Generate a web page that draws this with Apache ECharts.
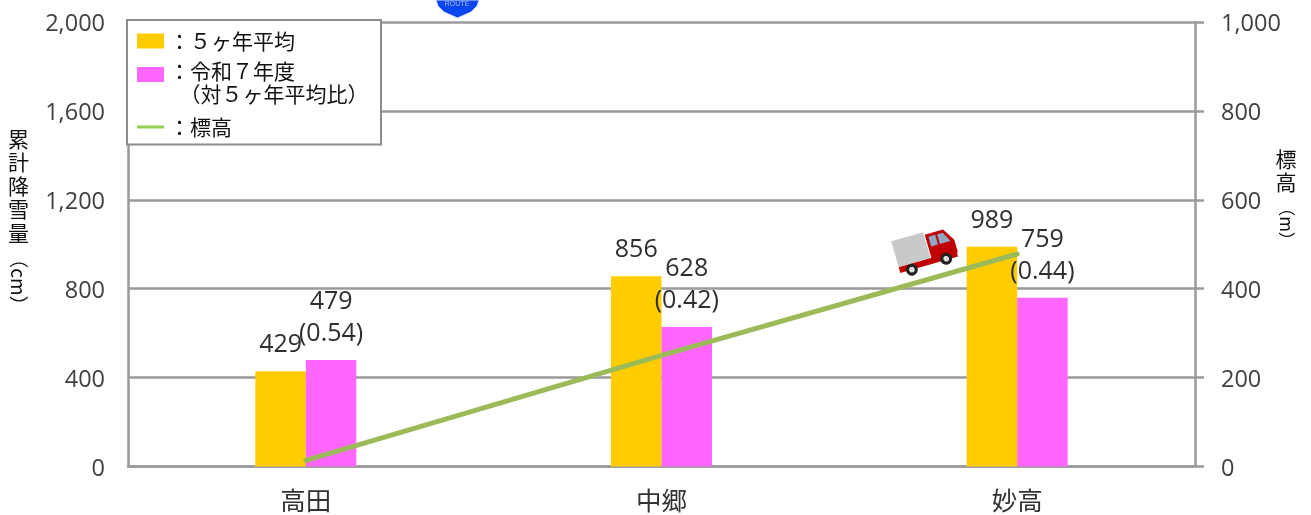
<!DOCTYPE html>
<html><head><meta charset="utf-8">
<style>html,body{margin:0;padding:0;background:#fff}#c{width:1311px;height:515px}</style>
<script src="https://cdn.jsdelivr.net/npm/echarts@6/dist/echarts.min.js"></script>
</head><body><div id="c"></div>
<script>
const categories = ['高田','中郷','妙高'];
const average5y = [429,856,989];
const reiwa7 = [479,628,759];
const ratios = ['0.54','0.42','0.44'];
const elevation = [14,250,478];
const CJK = '"Noto Sans CJK JP","Noto Sans",sans-serif';
const NUM = '"Open Sans","Noto Sans",sans-serif';
const GRAY = '#9a9a9a';
const TXT = '#404040';
const N1='：５ヶ年平均', N2='：令和７年度', N3='：標高';
const labelBase = {show:true,position:'top',distance:10,fontFamily:NUM,fontSize:25,lineHeight:32,color:'#2e2e2e'};
const legendBase = {left:137,orient:'vertical',padding:0,itemWidth:27,itemHeight:15,
  textStyle:{fontFamily:CJK,fontSize:21,color:'#111',lineHeight:22}};
const tickRich = {t:{fontFamily:NUM,fontSize:23.5,color:TXT,padding:[5,0,0,0]}};
const tickFmt = v=>'{t|'+v.toLocaleString('en-US')+'}';
const chart = echarts.init(document.getElementById('c'),null,{renderer:'canvas'});
chart.setOption({
  animation:false,
  backgroundColor:'#fff',
  grid:{left:128,right:116,top:22,bottom:48.5,containLabel:false},
  legend:[
    {...legendBase,top:30,data:[{name:N1,icon:'rect'}]},
    {...legendBase,top:61,formatter:n=>'{t|'+n+'}',
     textStyle:{...legendBase.textStyle,rich:{t:{fontFamily:CJK,fontSize:21,color:'#111',lineHeight:22,padding:[0,0,6,0]}}},
     data:[{name:N2,icon:'rect'}]},
    {...legendBase,top:116,data:[{name:N3,icon:'path://M0,0H27V3H0Z'}]}
  ],
  xAxis:{type:'category',data:categories,
    axisLine:{lineStyle:{color:GRAY,width:2.5}},axisTick:{show:false},
    axisLabel:{fontFamily:CJK,fontSize:25.5,color:'#333',margin:21}},
  yAxis:[
    {type:'value',min:0,max:2000,interval:400,
     axisLine:{show:true,lineStyle:{color:GRAY,width:2.5}},axisTick:{show:false},
     splitLine:{show:true,lineStyle:{color:GRAY,width:2.5}},
     axisLabel:{margin:23,rich:tickRich,formatter:tickFmt}},
    {type:'value',min:0,max:1000,interval:200,
     axisLine:{show:true,lineStyle:{color:GRAY,width:2.5}},
     axisTick:{show:true,inside:false,length:9,lineStyle:{color:GRAY,width:2.5}},
     splitLine:{show:false},
     axisLabel:{margin:26,rich:tickRich,formatter:tickFmt}}
  ],
  series:[
    {name:N1,type:'bar',data:average5y,barWidth:50.5,barGap:0,
     itemStyle:{color:'#FFCC00'},label:{...labelBase}},
    {name:N2,type:'bar',data:reiwa7,barWidth:50.5,
     itemStyle:{color:'#FF66FF'},
     label:{...labelBase,formatter:p=>p.value+'\n('+ratios[p.dataIndex]+')'}},
    {name:N3,type:'line',yAxisIndex:1,data:elevation,symbol:'none',z:5,
     lineStyle:{color:'#9BBB59',width:5,cap:'round'},itemStyle:{color:'#92D050'}}
  ],
  graphic:[
    {type:'rect',z:3,shape:{x:127,y:20,width:254,height:124.5},style:{fill:'#fff',stroke:'#8c8c8c',lineWidth:2}},
    {type:'text',z:6,x:169,y:94,style:{text:'　（対５ヶ年平均比）',fontFamily:CJK,fontSize:21,fill:'#111',verticalAlign:'middle'}},
    {type:'text',x:18.5,y:127,z:10,
      style:{text:'累\n計\n降\n雪\n量',fontFamily:CJK,fontSize:21,lineHeight:23.5,fill:'#111',align:'center'}},
    {type:'text',x:18,y:282,rotation:-Math.PI/2,z:10,
      style:{text:'（cm）',fontFamily:CJK,fontSize:19,fill:'#111',align:'center',verticalAlign:'middle'}},
    {type:'text',x:1286,y:148,z:10,
      style:{text:'標\n高',fontFamily:CJK,fontSize:21,lineHeight:23,fill:'#111',align:'center'}},
    {type:'text',x:1286,y:224,rotation:-Math.PI/2,z:10,
      style:{text:'（m）',fontFamily:CJK,fontSize:17,fill:'#111',align:'center',verticalAlign:'middle'}},
    // route shield clipped by the top edge
    {type:'polygon',z:10,shape:{points:[[436,0],[479,0],[477,6],[471,12],[462,16],[457.5,18],[453,16],[444,12],[438,6]]},
      style:{fill:'#0a46f0',stroke:'#cfe0ff',lineWidth:1}},
    {type:'text',z:11,x:457,y:4,style:{text:'ROUTE',fontFamily:'Liberation Sans',fontSize:7,fill:'#a9bcff',align:'center',verticalAlign:'middle'}},
    // truck pictogram
    {type:'group',x:926,y:250,rotation:0.28,z:10,children:[
      {type:'rect',shape:{x:-31,y:-18,width:33,height:27},style:{fill:'#c9c9c9'}},
      {type:'rect',shape:{x:-31,y:9,width:60,height:6},style:{fill:'#c00000'}},
      {type:'polygon',shape:{points:[[3,-15],[22,-15],[30,-2],[30,11],[3,11]]},style:{fill:'#c00000'}},
      {type:'rect',shape:{x:6,y:-12,width:7,height:10},style:{fill:'#8fa9c4'}},
      {type:'polygon',shape:{points:[[15,-12],[21,-12],[26,-2],[15,-2]]},style:{fill:'#8fa9c4'}},
      {type:'circle',shape:{cx:-19,cy:15,r:6},style:{fill:'#222'}},
      {type:'circle',shape:{cx:-19,cy:15,r:2.8},style:{fill:'#ddd'}},
      {type:'circle',shape:{cx:17,cy:14,r:6},style:{fill:'#222'}},
      {type:'circle',shape:{cx:17,cy:14,r:2.8},style:{fill:'#ddd'}}
    ]}
  ]
});
</script></body></html>
